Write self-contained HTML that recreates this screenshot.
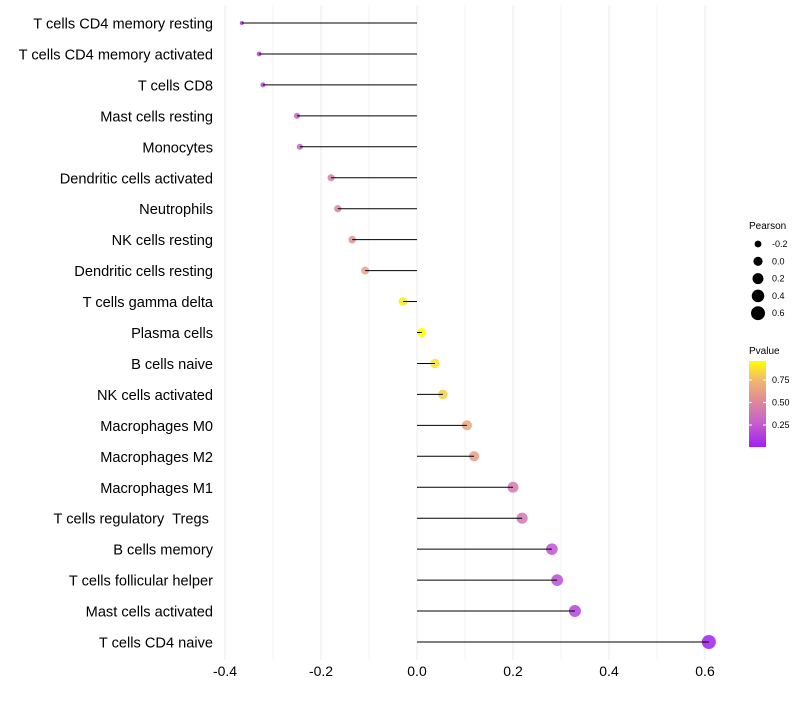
<!DOCTYPE html>
<html><head><meta charset="utf-8"><style>
body{margin:0;background:#fff;font-family:"Liberation Sans",sans-serif}
text{white-space:pre}
</style></head><body>
<svg id="c" width="800" height="700" xmlns="http://www.w3.org/2000/svg"></svg>
<script>
const categories=["T cells CD4 memory resting","T cells CD4 memory activated","T cells CD8","Mast cells resting","Monocytes","Dendritic cells activated","Neutrophils","NK cells resting","Dendritic cells resting","T cells gamma delta","Plasma cells","B cells naive","NK cells activated","Macrophages M0","Macrophages M2","Macrophages M1","T cells regulatory  Tregs ","B cells memory","T cells follicular helper","Mast cells activated","T cells CD4 naive"];
const pearson=[-0.365,-0.329,-0.321,-0.25,-0.244,-0.179,-0.165,-0.135,-0.108,-0.029,0.010,0.0375,0.054,0.104,0.119,0.2,0.219,0.281,0.292,0.329,0.608];
const pvalue=[0.10,0.15,0.16,0.27,0.28,0.43,0.47,0.55,0.64,0.90,0.96,0.87,0.82,0.66,0.61,0.42,0.40,0.22,0.20,0.15,0.006];
const xTicks=[-0.4,-0.2,0,0.2,0.4,0.6];
const xMinor=[-0.3,-0.1,0.1,0.3,0.5];
const sizeLegend=[-0.2,0,0.2,0.4,0.6];
const colorTicks=[0.25,0.5,0.75];

const NS="http://www.w3.org/2000/svg";
const svg=document.getElementById('c');
function el(t,a,p){const e=document.createElementNS(NS,t);for(const k in a)e.setAttribute(k,a[k]);(p||svg).appendChild(e);return e;}
const x=v=>417+v*480;
const y=i=>23+i*30.95;
const rad=v=>Math.sqrt(Math.max(1,20.9+46.2*v));
const stops=[[0,[160,32,240]],[0.3,[200,100,200]],[0.55,[224,140,150]],[0.78,[240,185,110]],[1,[255,255,0]]];
function col(p){for(let i=1;i<stops.length;i++){if(p<=stops[i][0]){const a=stops[i-1],b=stops[i],t=(p-a[0])/(b[0]-a[0]);return 'rgb('+a[1].map((c,j)=>Math.round(c+(b[1][j]-c)*t)).join(',')+')';}}return 'rgb(255,255,0)';}
const pmin=0.006,pmax=0.96;

xMinor.forEach(v=>{const l=el('line',{x1:x(v),x2:x(v),y1:5,y2:660,stroke:'#f3f3f3','stroke-width':1});
});
xTicks.forEach(v=>{const l=el('line',{x1:x(v),x2:x(v),y1:5,y2:660,stroke:'#ebebeb','stroke-width':1});

const t=el('text',{x:x(v),y:676,'text-anchor':'middle','font-size':14,fill:'#000'});t.textContent=(v===0?'0.0':v.toFixed(1));
});

categories.forEach((c,i)=>{
 const t=el('text',{x:213,y:y(i)+5.5,'text-anchor':'end','font-size':14.6,fill:'#000'});t.textContent=c;
 
 const d=el('circle',{cx:x(pearson[i]),cy:y(i),r:rad(pearson[i]),fill:col((pvalue[i]-pmin)/(pmax-pmin)),'fill-opacity':0.85});
 
 const s=el('line',{x1:x(0),x2:x(pearson[i]),y1:y(i),y2:y(i),stroke:'#000','stroke-width':1});
 
});

const lt=el('text',{x:749,y:229,'font-size':10});lt.textContent='Pearson';

sizeLegend.forEach((v,i)=>{const yy=244+i*17.3;
 const c=el('circle',{cx:758,cy:yy,r:rad(v),fill:'#000'});
 
 const t=el('text',{x:772,y:yy+3,'font-size':9});t.textContent=v.toFixed(1);
 });

const ct=el('text',{x:749,y:354,'font-size':10});ct.textContent='Pvalue';

const defs=el('defs',{});const g=el('linearGradient',{id:'g',x1:0,y1:1,x2:0,y2:0},defs);
stops.forEach(s=>el('stop',{offset:s[0],'stop-color':'rgb('+s[1].join(',')+')'},g));
const cb=el('rect',{x:749,y:361,width:17,height:86,fill:'url(#g)'});

colorTicks.forEach(v=>{const yy=447-(v-pmin)/(pmax-pmin)*86;
 el('line',{x1:749,x2:752,y1:yy,y2:yy,stroke:'#fff'});el('line',{x1:763,x2:766,y1:yy,y2:yy,stroke:'#fff'});
 const t=el('text',{x:772,y:yy+3,'font-size':9});t.textContent=v.toFixed(2);
 });
</script>
</body></html>
